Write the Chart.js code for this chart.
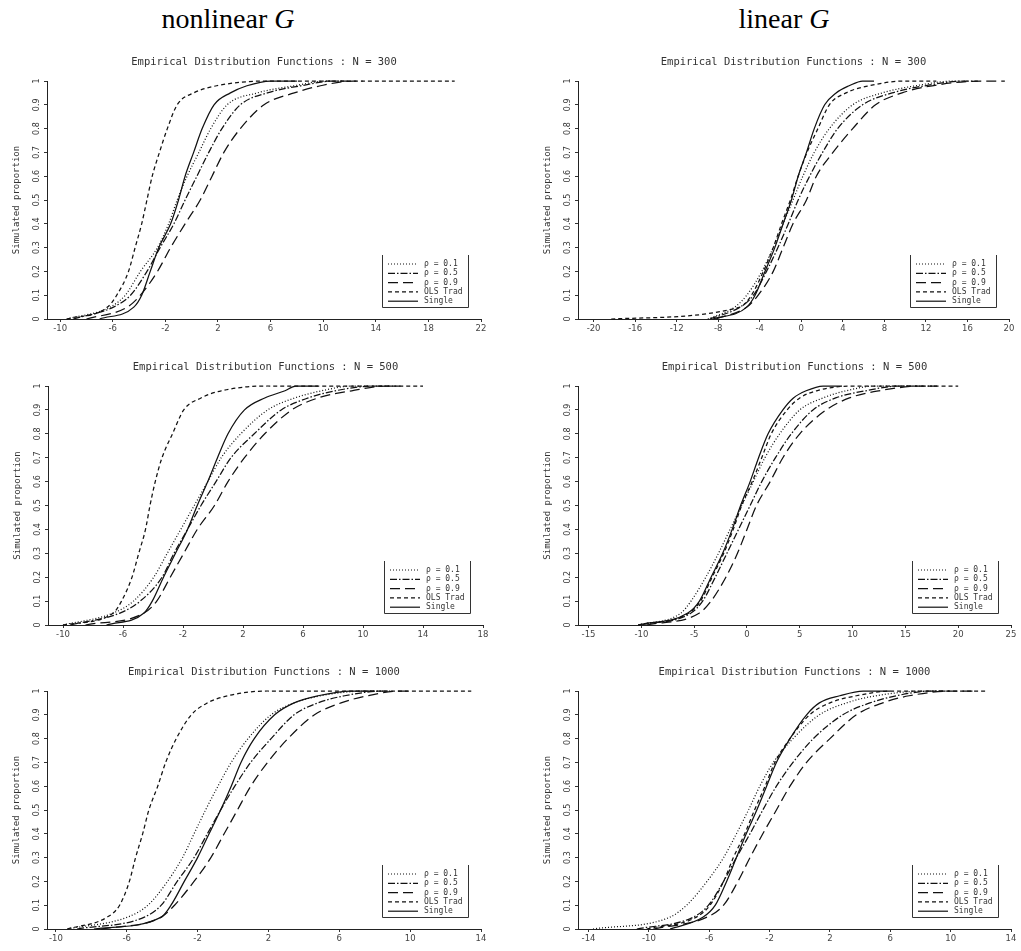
<!DOCTYPE html>
<html>
<head>
<meta charset="utf-8">
<script src="https://cdn.jsdelivr.net/npm/chart.js@4.4.1/dist/chart.umd.min.js"></script>
<style>
  html, body { margin: 0; padding: 0; background: #fff; }
  #page { position: relative; width: 1021px; height: 951px; overflow: hidden; }
  .head { position: absolute; top: 3px; font-family: "Liberation Serif", "DejaVu Serif", serif; font-size: 28px; color: #000; transform: translateX(-50%); white-space: nowrap; }
  canvas { position: absolute; }
</style>
</head>
<body>
<div id="page">
  <div class="head" style="left:228px">nonlinear <i>G</i></div>
  <div class="head" style="left:784px">linear <i>G</i></div>
  <canvas id="tl"></canvas>
  <canvas id="tr"></canvas>
  <canvas id="ml"></canvas>
  <canvas id="mr"></canvas>
  <canvas id="bl"></canvas>
  <canvas id="br"></canvas>
</div>
<script>
// probability levels (y) at which each curve's x position was read
const probs = [0, 0.05, 0.1, 0.2, 0.3, 0.4, 0.5, 0.6, 0.7, 0.8, 0.9, 0.95, 0.98, 1, 1];

const seriesLabels = ['ρ = 0.1', 'ρ = 0.5', 'ρ = 0.9', 'OLS Trad', 'Single'];
const yTicks = [0, 0.1, 0.2, 0.3, 0.4, 0.5, 0.6, 0.7, 0.8, 0.9, 1];

// nonlinear G, N = 300
const tlRho1   = [-9.5, -6.2, -5.05, -3.9, -2.6, -1.75, -1.1, -0.35, 0.55, 1.45, 2.7, 5.0, 7.8, 10.3, 11.5];
const tlRho5   = [-9.0, -5.95, -4.65, -3.4, -2.4, -1.35, -0.5, 0.4, 1.3, 2.3, 3.7, 5.75, 8.3, 10.8, 12];
const tlRho9   = [-8.0, -4.9, -3.9, -2.6, -1.6, -0.5, 0.65, 1.55, 2.45, 3.7, 5.5, 7.8, 9.8, 12.3, 13];
const tlOls    = [-9.5, -6.4, -5.7, -4.8, -4.3, -3.8, -3.4, -3.0, -2.45, -1.85, -1.1, 0.15, 1.9, 5.75, 20];
const tlSingle = [-7.0, -4.4, -3.8, -3.15, -2.5, -1.6, -1.0, -0.5, 0.15, 0.8, 1.7, 2.95, 4.2, 6.0, 8];
const tlTicks  = [-10, -6, -2, 2, 6, 10, 14, 18, 22];

// linear G, N = 300
const trRho1   = [-9.0, -6.4, -5.25, -3.8, -2.7, -1.75, -0.8, 0.15, 1.25, 2.7, 4.95, 7.8, 11.0, 14.8, 16];
const trRho5   = [-8.8, -5.9, -4.6, -3.35, -2.25, -1.25, -0.3, 0.8, 2.05, 3.5, 5.9, 8.75, 11.9, 15.8, 17];
const trRho9   = [-8.2, -5.25, -4.15, -2.7, -1.75, -0.8, 0.5, 1.45, 3.05, 4.95, 7.15, 9.7, 12.6, 17.4, 19.6];
const trOls    = [-18.3, -5.9, -4.8, -3.65, -2.7, -1.9, -1.05, -0.3, 0.55, 1.6, 2.7, 4.3, 6.55, 10.0, 13];
const trSingle = [-8.5, -5.25, -4.45, -3.5, -2.55, -1.75, -0.95, -0.3, 0.5, 1.25, 2.25, 3.35, 4.6, 5.9, 7];
const trTicks  = [-20, -16, -12, -8, -4, 0, 4, 8, 12, 16, 20];

// nonlinear G, N = 500
const mlRho1   = [-10, -6.65, -5.3, -3.95, -3.05, -2.15, -1.25, -0.35, 0.55, 1.85, 3.65, 5.45, 7.25, 9.3, 11];
const mlRho5   = [-9.5, -6.2, -4.85, -3.4, -2.6, -1.7, -0.8, 0.2, 1.2, 2.75, 4.55, 6.35, 8.15, 10.8, 12];
const mlRho9   = [-8.5, -4.6, -3.75, -2.85, -1.95, -1.05, 0.1, 1.0, 2.1, 3.45, 5.25, 7.0, 9.25, 11.5, 12.5];
const mlOls    = [-10.0, -6.65, -6.1, -5.4, -4.95, -4.5, -4.2, -3.85, -3.4, -2.7, -1.95, -0.8, 0.55, 3.65, 14];
const mlSingle = [-7.1, -4.6, -4.05, -3.3, -2.5, -1.7, -1.05, -0.35, 0.3, 1.0, 2.1, 3.45, 4.8, 5.5, 7];
const mlTicks  = [-10, -6, -2, 2, 6, 10, 14, 18];

// linear G, N = 500
const mrRho1   = [-10.3, -6.25, -5.3, -3.9, -2.7, -1.6, -0.5, 0.6, 1.7, 3.1, 5.0, 7.2, 9.4, 12.2, 18];
const mrRho5   = [-10.0, -5.3, -4.2, -3.0, -1.9, -0.8, 0.3, 1.4, 2.7, 4.2, 6.25, 8.4, 11.25, 14.4, 16];
const mrRho9   = [-9.5, -4.5, -3.4, -2.0, -0.9, 0.0, 0.9, 2.2, 3.4, 5.0, 7.5, 9.7, 12.5, 16.6, 18];
const mrOls    = [-10.3, -5.5, -4.4, -3.3, -2.2, -1.3, -0.5, 0.5, 1.4, 2.3, 3.8, 5.0, 6.6, 10.0, 20.0];
const mrSingle = [-10.3, -5.6, -4.5, -3.4, -2.3, -1.4, -0.6, 0.3, 1.1, 2.0, 3.4, 4.4, 5.6, 7.2, 9];
const mrTicks  = [-15, -10, -5, 0, 5, 10, 15, 20, 25];

// nonlinear G, N = 1000
const blRho1   = [-9.35, -5.95, -4.8, -3.7, -2.85, -2.2, -1.55, -0.85, -0.1, 0.85, 2.15, 3.45, 4.95, 7.6, 8.5];
const blRho5   = [-8.8, -5.0, -4.05, -3.15, -2.2, -1.45, -0.7, 0.1, 1.0, 2.15, 3.45, 4.8, 6.3, 8.55, 9];
const blRho9   = [-7.45, -4.05, -3.3, -2.2, -1.25, -0.5, 0.25, 1.0, 1.95, 3.1, 4.6, 6.1, 7.6, 9.5, 10];
const blOls    = [-9.35, -7.1, -6.4, -5.85, -5.5, -5.1, -4.75, -4.25, -3.8, -3.2, -2.35, -1.45, -0.3, 1.95, 13.45];
const blSingle = [-7.85, -4.05, -3.5, -2.75, -2.0, -1.35, -0.7, -0.1, 0.45, 1.2, 2.35, 3.45, 4.8, 6.65, 8];
const blTicks  = [-10, -6, -2, 2, 6, 10, 14];

// linear G, N = 1000
const brRho1   = [-13.7, -8.6, -7.5, -6.15, -5.05, -4.2, -3.4, -2.65, -1.75, -0.45, 1.3, 3.1, 5.05, 8.4, 9.5];
const brRho5   = [-10.8, -7.05, -6.05, -5.05, -4.2, -3.3, -2.45, -1.55, -0.45, 0.9, 2.85, 4.65, 6.4, 8.8, 10];
const brRho9   = [-9.7, -6.15, -5.05, -4.1, -3.3, -2.45, -1.55, -0.65, 0.45, 2.0, 3.75, 5.5, 7.25, 10.15, 11.5];
const brOls    = [-10.15, -6.85, -5.95, -5.05, -4.4, -3.65, -3.0, -2.3, -1.65, -0.65, 0.65, 2.0, 3.75, 6.15, 12.35];
const brSingle = [-8.6, -6.4, -5.6, -4.85, -4.2, -3.55, -2.85, -2.2, -1.55, -0.65, 0.45, 1.3, 2.65, 4.2, 6];
const brTicks  = [-14, -10, -6, -2, 2, 6, 10, 14];

const dashes = [[1, 2], [7, 2, 1.5, 2], [10, 5], [4, 3], []];
const ink = '#111';

// title, y label, rotated y tick labels and the in-plot legend
const panelDecor = {
    id: 'panelDecor',
    afterDraw(chart, args, opts) {
        const ctx = chart.ctx;
        const a = chart.chartArea;
        const y = chart.scales.y;
        ctx.save();
        ctx.fillStyle = '#333';
        ctx.textAlign = 'center';
        ctx.textBaseline = 'middle';

        ctx.font = '10.5px "DejaVu Sans Mono"';
        ctx.fillText(opts.title, (a.left + a.right) / 2, a.top - 19);

        ctx.font = '8px "DejaVu Sans"';
        yTicks.forEach(v => {
            ctx.save();
            ctx.translate(a.left - 10, y.getPixelForValue(v));
            ctx.rotate(-Math.PI / 2);
            ctx.fillText(String(v), 0, 0);
            ctx.restore();
        });

        ctx.save();
        ctx.font = '9px "DejaVu Sans Mono"';
        ctx.translate(a.left - 30, (a.top + a.bottom) / 2);
        ctx.rotate(-Math.PI / 2);
        ctx.fillText('Simulated proportion', 0, 0);
        ctx.restore();

        // legend box
        const w = 86, h = 52;
        const right = a.right - 13, bottom = a.bottom - 12;
        const left = right - w, top = bottom - h;
        ctx.strokeStyle = '#333';
        ctx.lineWidth = 1;
        ctx.beginPath();
        ctx.moveTo(left + 0.5, top);
        ctx.lineTo(left + 0.5, bottom + 0.5);
        ctx.lineTo(right + 0.5, bottom + 0.5);
        ctx.lineTo(right + 0.5, top);
        ctx.stroke();
        ctx.font = '8px "DejaVu Sans Mono"';
        ctx.textAlign = 'left';
        chart.data.datasets.forEach((ds, i) => {
            const ry = top + 9 + i * 9.3;
            ctx.strokeStyle = ink;
            ctx.lineWidth = 1.2;
            ctx.setLineDash(ds.borderDash);
            ctx.beginPath();
            ctx.moveTo(left + 6, ry);
            ctx.lineTo(left + 36, ry);
            ctx.stroke();
            ctx.setLineDash([]);
            ctx.fillText(ds.label, left + 42, ry);
        });
        ctx.restore();
    }
};

function makePanel(id, rect, xMin, xMax, xTicks, curves, title) {
    const [pl, pt, pr, pb] = rect;
    const cv = document.getElementById(id);
    cv.style.left = (pl - 47) + 'px';
    cv.style.top = (pt - 40) + 'px';
    cv.width = pr - pl + 57;
    cv.height = pb - pt + 62;

    const datasets = curves.map((xs, i) => ({
        label: seriesLabels[i],
        data: xs.map((x, k) => ({ x: x, y: probs[k] })),
        showLine: true,
        borderColor: ink,
        borderWidth: 1.25,
        borderDash: dashes[i],
        pointRadius: 0,
        cubicInterpolationMode: 'monotone',
        clip: false
    }));

    new Chart(cv.getContext('2d'), {
        type: 'scatter',
        data: { datasets: datasets },
        options: {
            responsive: false,
            animation: false,
            layout: { padding: { left: 47, top: 40, right: 10, bottom: 2 } },
            scales: {
                x: {
                    type: 'linear',
                    min: xMin,
                    max: xMax,
                    afterBuildTicks: s => { s.ticks = xTicks.map(v => ({ value: v })); },
                    afterFit: s => { s.height = 20; },
                    grid: { display: true, drawOnChartArea: false, drawTicks: true, tickLength: 3, color: '#333' },
                    border: { display: true, color: '#222', width: 1 },
                    ticks: { autoSkip: false, maxRotation: 0, padding: 2, color: '#444', font: { family: 'DejaVu Sans', size: 8.5 } }
                },
                y: {
                    min: 0,
                    max: 1,
                    afterBuildTicks: s => { s.ticks = yTicks.map(v => ({ value: v })); },
                    afterFit: s => { s.width = 0; },
                    grid: { display: true, drawOnChartArea: false, drawTicks: true, tickLength: 3, color: '#333' },
                    border: { display: true, color: '#222', width: 1 },
                    ticks: { display: false }
                }
            },
            plugins: {
                legend: { display: false },
                tooltip: { enabled: false },
                panelDecor: { title: title }
            }
        },
        plugins: [panelDecor]
    });
}

makePanel('tl', [47, 81, 481, 319], -11, 22, tlTicks,
    [tlRho1, tlRho5, tlRho9, tlOls, tlSingle], 'Empirical Distribution Functions : N = 300');
makePanel('tr', [578, 81, 1009, 319], -21.5, 20, trTicks,
    [trRho1, trRho5, trRho9, trOls, trSingle], 'Empirical Distribution Functions : N = 300');
makePanel('ml', [48, 386, 483, 625], -11, 18, mlTicks,
    [mlRho1, mlRho5, mlRho9, mlOls, mlSingle], 'Empirical Distribution Functions : N = 500');
makePanel('mr', [578, 386, 1011, 625], -16, 25, mrTicks,
    [mrRho1, mrRho5, mrRho9, mrOls, mrSingle], 'Empirical Distribution Functions : N = 500');
makePanel('bl', [47, 691, 481, 929], -10.5, 14, blTicks,
    [blRho1, blRho5, blRho9, blOls, blSingle], 'Empirical Distribution Functions : N = 1000');
makePanel('br', [578, 691, 1011, 929], -14.7, 14, brTicks,
    [brRho1, brRho5, brRho9, brOls, brSingle], 'Empirical Distribution Functions : N = 1000');
</script>
</body>
</html>
